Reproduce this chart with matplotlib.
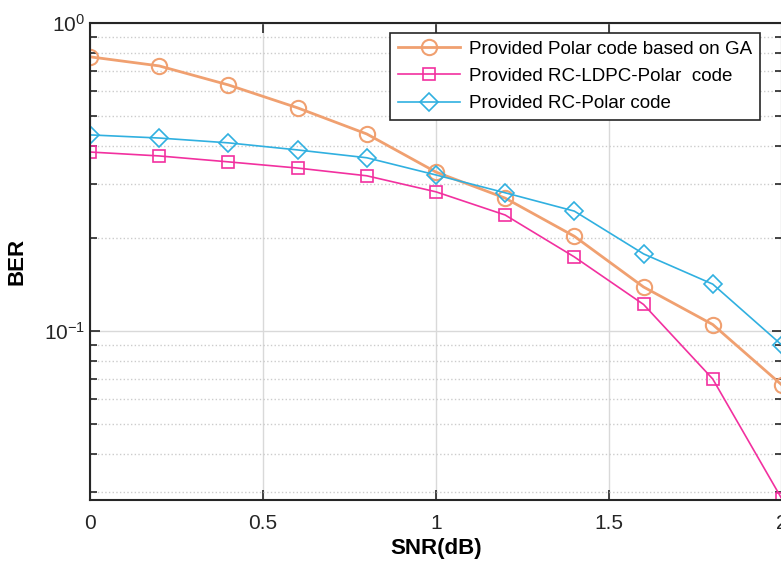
import matplotlib.pyplot as plt
from matplotlib.ticker import LogLocator, NullFormatter

plt.rcParams['font.family'] = ['Liberation Sans', 'DejaVu Sans']

snr = [0, 0.2, 0.4, 0.6, 0.8, 1.0, 1.2, 1.4, 1.6, 1.8, 2.0]
ber_ga = [0.776, 0.725, 0.629, 0.530, 0.436, 0.328, 0.270, 0.203, 0.139, 0.105, 0.0668]
ber_ldpc = [0.381, 0.370, 0.354, 0.338, 0.319, 0.283, 0.238, 0.174, 0.122, 0.0699, 0.0285]
ber_rc = [0.433, 0.423, 0.408, 0.387, 0.365, 0.321, 0.281, 0.245, 0.178, 0.142, 0.090]

labels = ['Provided Polar code based on GA',
          'Provided RC-LDPC-Polar  code',
          'Provided RC-Polar code']

fig = plt.figure(figsize=(7.81, 5.66), dpi=100)
ax = fig.add_axes([0.1152, 0.1166, 0.886, 0.843])

ax.semilogy(snr, ber_ga, '-o', color='#F0A070', mfc='none', ms=11, mew=1.5, lw=2, label=labels[0])
ax.semilogy(snr, ber_ldpc, '-s', color='#F2309F', mfc='none', ms=8, mew=1.2, lw=1.2, label=labels[1])
ax.semilogy(snr, ber_rc, '-D', color='#30B0E0', mfc='none', ms=9, mew=1.2, lw=1.2, label=labels[2])

ax.set_xlim(0, 2)
ax.set_ylim(0.0283, 1)
ax.set_xticks([0, 0.5, 1, 1.5, 2])
ax.set_xticklabels(['0', '0.5', '1', '1.5', '2'])
ax.yaxis.set_minor_locator(LogLocator(base=10, subs=range(2, 10)))
ax.yaxis.set_minor_formatter(NullFormatter())

ax.grid(True, which='major', color='#d9d9d9', lw=1)
ax.grid(True, which='minor', axis='y', color='#cccccc', ls=':', lw=1)
ax.tick_params(which='both', direction='in', top=True, right=True, labelsize=15, colors='#262626', width=1.2)
ax.tick_params(which='major', length=7)
ax.tick_params(which='minor', length=5)
ax.tick_params(axis='x', pad=10)
for s in ax.spines.values():
    s.set_linewidth(1.5)
    s.set_color('#262626')

ax.set_xlabel('SNR(dB)', fontsize=16, fontweight='bold', labelpad=4)
ax.set_ylabel('BER', fontsize=16, fontweight='bold', labelpad=12)

leg = ax.legend(loc='upper right', bbox_to_anchor=(0.968, 0.979), borderaxespad=0,
                fontsize=13.5, fancybox=False, edgecolor='#262626', framealpha=1,
                handlelength=3.3, borderpad=0.4, labelspacing=0.55, handletextpad=0.5)
leg.get_frame().set_linewidth(1.2)

fig.savefig('out.png', dpi=100)
